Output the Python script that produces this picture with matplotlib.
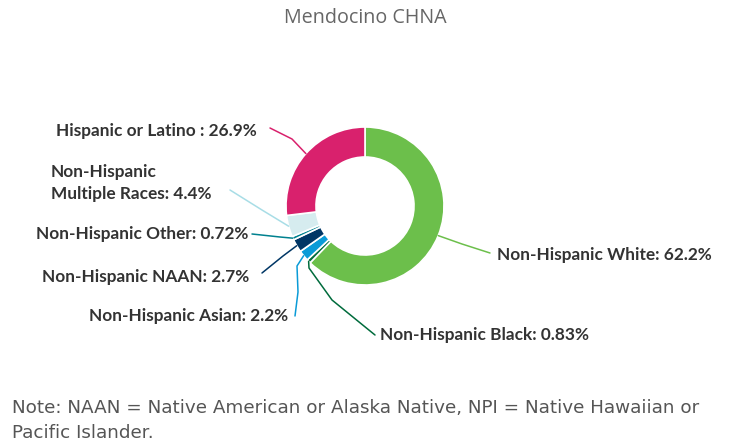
import matplotlib.pyplot as plt
import numpy as np

groups = ["Non-Hispanic White", "Non-Hispanic Black", "Non-Hispanic Asian",
          "Non-Hispanic NAAN", "Non-Hispanic Other",
          "Non-Hispanic\nMultiple Races", "Hispanic or Latino "]
shares = [62.2, 0.83, 2.2, 2.7, 0.72, 4.4, 26.9]
value_text = ["62.2%", "0.83%", "2.2%", "2.7%", "0.72%", "4.4%", "26.9%"]
colors = ["#6cbf4b", "#006b3c", "#0a9bd7", "#003665", "#00818f", "#d6ecef", "#d9216d"]

W, H = 729, 444
fig = plt.figure(figsize=(W / 100, H / 100), dpi=100)
ax = fig.add_axes([0, 0, 1, 1])

cx, cy, r = 365, H - 206, 79
wedges, _ = ax.pie(shares, colors=colors, startangle=90, counterclock=False,
                   radius=r, center=(cx, cy), frame=True,
                   wedgeprops=dict(width=30, edgecolor="white", linewidth=1.2))
ax.set_xlim(0, W)
ax.set_ylim(0, H)
ax.set_aspect("equal")
ax.axis("off")

# label layout in pixel coords (x, y from top), alignment, connector path
layout = [
    ((497, 255), "left", [(490, 253), (462, 244)]),
    ((380, 335), "left", [(375, 335), (332, 300), (309, 268)]),
    ((288, 316), "right", [(295, 316), (298, 292), (297, 266)]),
    ((249, 277), "right", [(262, 273), (283, 256)]),
    ((248, 234), "right", [(252, 234), (280, 237)]),
    ((51, 183), "left", [(230, 190), (262, 210)]),
    ((257, 131), "right", [(270, 128), (292, 139)]),
]

for w, name, val, col, (pos, ha, pts) in zip(wedges, groups, value_text, colors, layout):
    mid = np.deg2rad((w.theta1 + w.theta2) / 2)
    ax_x = cx + r * np.cos(mid)
    ax_y = cy + r * np.sin(mid)
    xs = [p[0] for p in pts] + [ax_x]
    ys = [H - p[1] for p in pts] + [ax_y]
    lc = "#a8dde6" if col == "#d6ecef" else col
    ax.plot(xs, ys, color=lc, lw=1.1, solid_capstyle="round")
    ax.text(pos[0], H - pos[1], f"{name}: {val}", ha=ha, va="center",
            fontsize=12.4, fontweight="bold", family="Lato", color="#333333",
            linespacing=1.4)

fig.text(365 / W, 1 - 18 / H, "Mendocino CHNA", ha="center", va="center",
         fontsize=14.2, family="Open Sans", color="#666666")
fig.text(12 / W, 1 - 408 / H,
         "Note: NAAN = Native American or Alaska Native, NPI = Native Hawaiian or",
         ha="left", va="center", fontsize=13.2, family="DejaVu Sans", color="#555555")
fig.text(12 / W, 1 - 433 / H, "Pacific Islander.",
         ha="left", va="center", fontsize=13.2, family="DejaVu Sans", color="#555555")

fig.savefig("out.png", dpi=100)
